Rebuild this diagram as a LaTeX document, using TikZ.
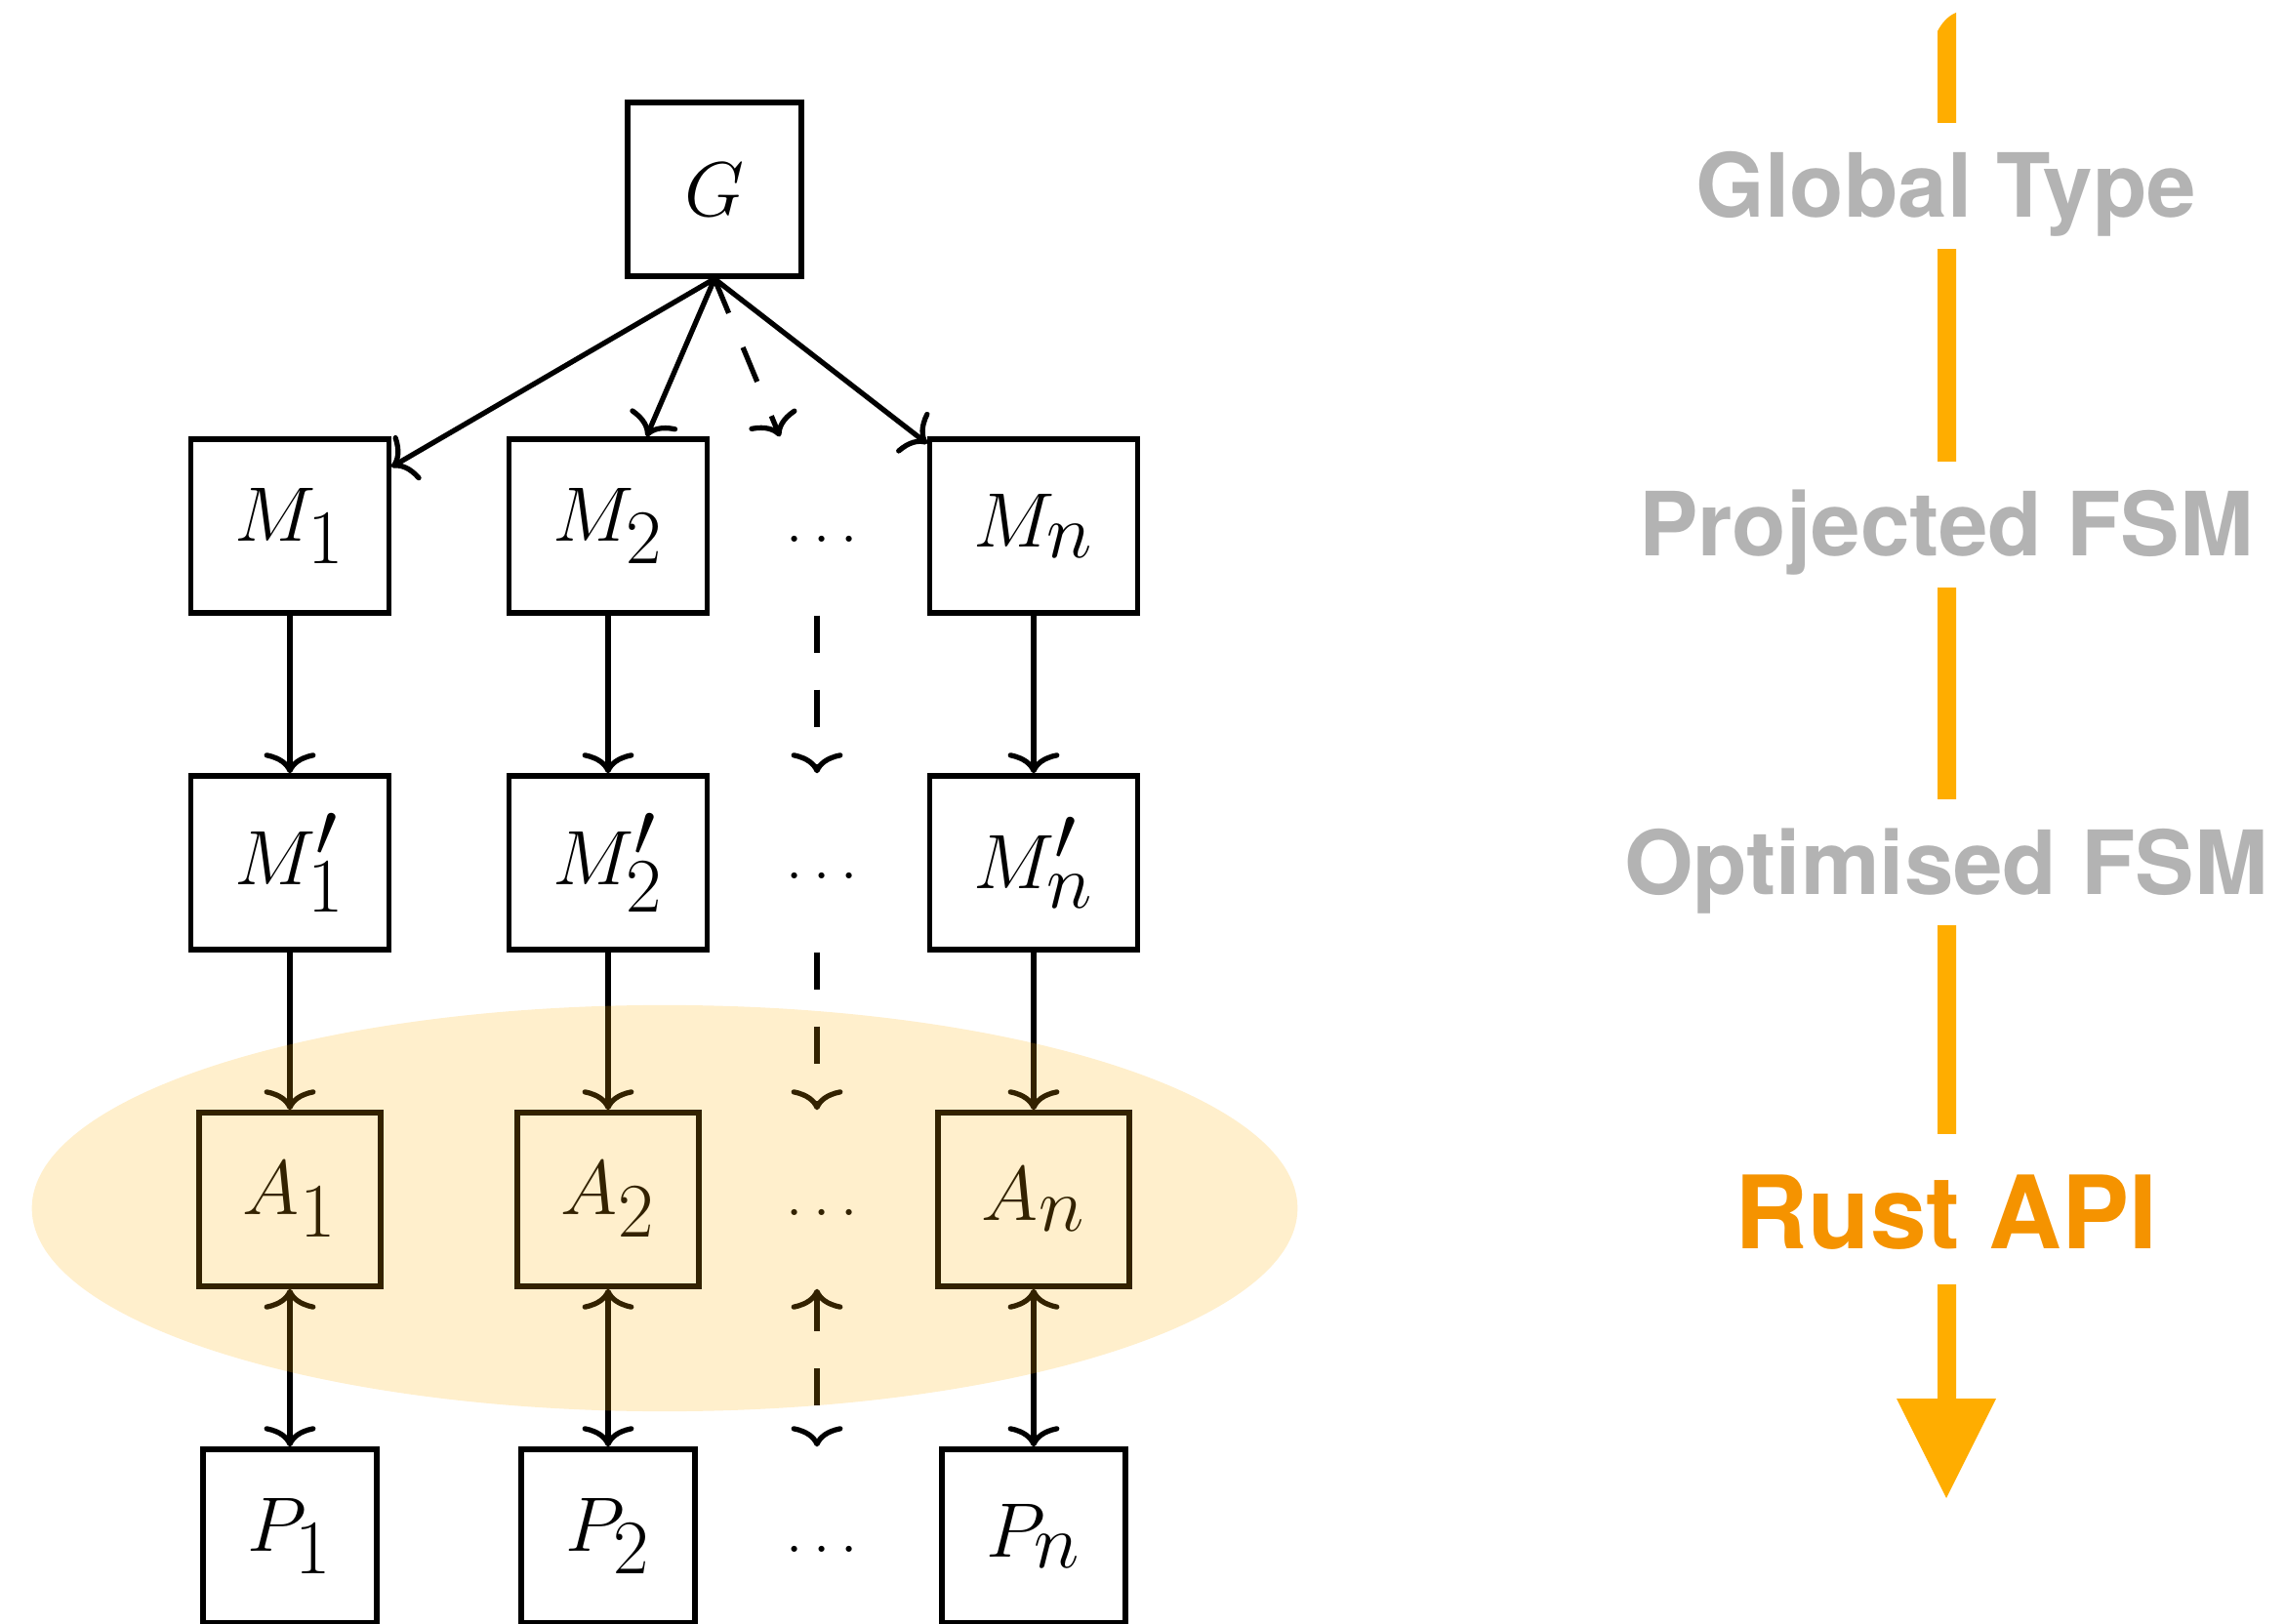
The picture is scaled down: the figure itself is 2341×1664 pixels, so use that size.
\RequirePackage{fix-cm}
\documentclass[tikz,border=0pt]{standalone}
\usepackage{fontspec}
\newfontfamily\labelfont{TeX Gyre Heros}
\usetikzlibrary{arrows.meta}
\def\tsub#1{_{\textstyle #1}}
\def\tprime{^{\textstyle\prime}}
\definecolor{apiorange}{HTML}{FFAD00}
\definecolor{apitext}{HTML}{F59300}
\definecolor{stagegray}{HTML}{B3B3B3}
\begin{document}
\begin{tikzpicture}[x=0.01cm,y=-0.01cm,line width=1.5pt,
	>={Computer Modern Rightarrow[length=6pt,width=15pt]},
	fsm/.style={draw,minimum width=1.78cm,minimum height=1.78cm,inner xsep=0.45cm,font=\fontsize{22.5}{27}\selectfont},
	gap/.style={minimum width=1.78cm,minimum height=1.78cm,font=\fontsize{18}{22}\selectfont},
	longdash/.style={dash pattern=on 0.38cm off 0.38cm},
	stage/.style={anchor=base,fill=white,text=stagegray,inner xsep=4pt,inner ysep=0.32cm,text height=0.65cm,text depth=0pt,
		font=\labelfont\bfseries\fontsize{25.8}{30}\selectfont},
	api/.style={text=apitext,inner ysep=0.37cm,text height=0.8cm,font=\labelfont\bfseries\fontsize{29.5}{35}\selectfont}]
		%\draw [help lines] (0,0) grid (2341,1664);
		\useasboundingbox (0,0) rectangle (2341,1664);
		\def\colA{297}
		\def\colB{623}
		\def\colC{837}
		\def\colD{1059}
		\def\rowM{539}	% 194+345
		\def\rowO{884}
		\def\rowA{1229}
		\def\rowP{1574}
		% global type
			\node [fsm] (G) at (732,194) {$G$};
		% projected machines
			\node [fsm] (m1) at (\colA,\rowM) {$M\tsub{1}$};
			\node [fsm] (m2) at (\colB,\rowM) {$M\tsub{2}$};
			\node [gap] (mdots) at (\colC,\rowM) {$\vphantom{M_1}\ldots$};
			\node [fsm] (mn) at (\colD,\rowM) {$M\tsub{n}$};
		% optimised machines
			\node [fsm] (o1) at (\colA,\rowO) {$M\tprime\tsub{1}$};
			\node [fsm] (o2) at (\colB,\rowO) {$M\tprime\tsub{2}$};
			\node [gap] (odots) at (\colC,\rowO) {$\vphantom{M_1}\ldots$};
			\node [fsm] (on) at (\colD,\rowO) {$M\tprime\tsub{n}$};
		% generated apis
			\node [fsm] (a1) at (\colA,\rowA) {$A\tsub{1}$};
			\node [fsm] (a2) at (\colB,\rowA) {$A\tsub{2}$};
			\node [gap] (adots) at (\colC,\rowA) {$\vphantom{A_1}\ldots$};
			\node [fsm] (an) at (\colD,\rowA) {$A\tsub{n}$};
		% processes
			\node [fsm] (p1) at (\colA,\rowP) {$P\tsub{1}$};
			\node [fsm] (p2) at (\colB,\rowP) {$P\tsub{2}$};
			\node [gap] (pdots) at (\colC,\rowP) {$\vphantom{P_1}\ldots$};
			\node [fsm] (pn) at (\colD,\rowP) {$P\tsub{n}$};
		% arrows
			\draw [->] (G.south) -- (m1);
			\draw [->] (G.south) -- (m2);
			\draw [->,longdash] (G.south) -- (mdots);
			\draw [->] (G.south) -- (mn);
			\draw [->] (m1) -- (o1);
			\draw [->] (m2) -- (o2);
			\draw [->,longdash] (mdots) -- (odots);
			\draw [->] (mn) -- (on);
			\draw [->] (o1) -- (a1);
			\draw [->] (o2) -- (a2);
			\draw [->,longdash] (odots) -- (adots);
			\draw [->] (on) -- (an);
			\draw [<->] (a1) -- (p1);
			\draw [<->] (a2) -- (p2);
			\draw [<->,longdash] (adots) -- (pdots);
			\draw [<->] (an) -- (pn);
		% highlight
			\fill [apiorange,opacity=0.2] (681,1238) ellipse [x radius=6.48cm,y radius=2.08cm];
		% pipeline
			\fill [apiorange] (1985,32) .. controls (1989,24) and (1996,16) .. (2004,13) -- (2004,1433) -- (2045,1433) -- (1994,1535) -- (1943,1433) -- (1985,1433) -- cycle;
			\node [stage] (global) at (1994,223) {Global Type};
			\node [stage] (projected) at (1994,570) {Projected FSM};
			\node [stage] (optimised) at (1994,916) {Optimised FSM};
			\node [stage,api] (rust) at (1994,1279) {Rust API};
	\end{tikzpicture}
\end{document}
